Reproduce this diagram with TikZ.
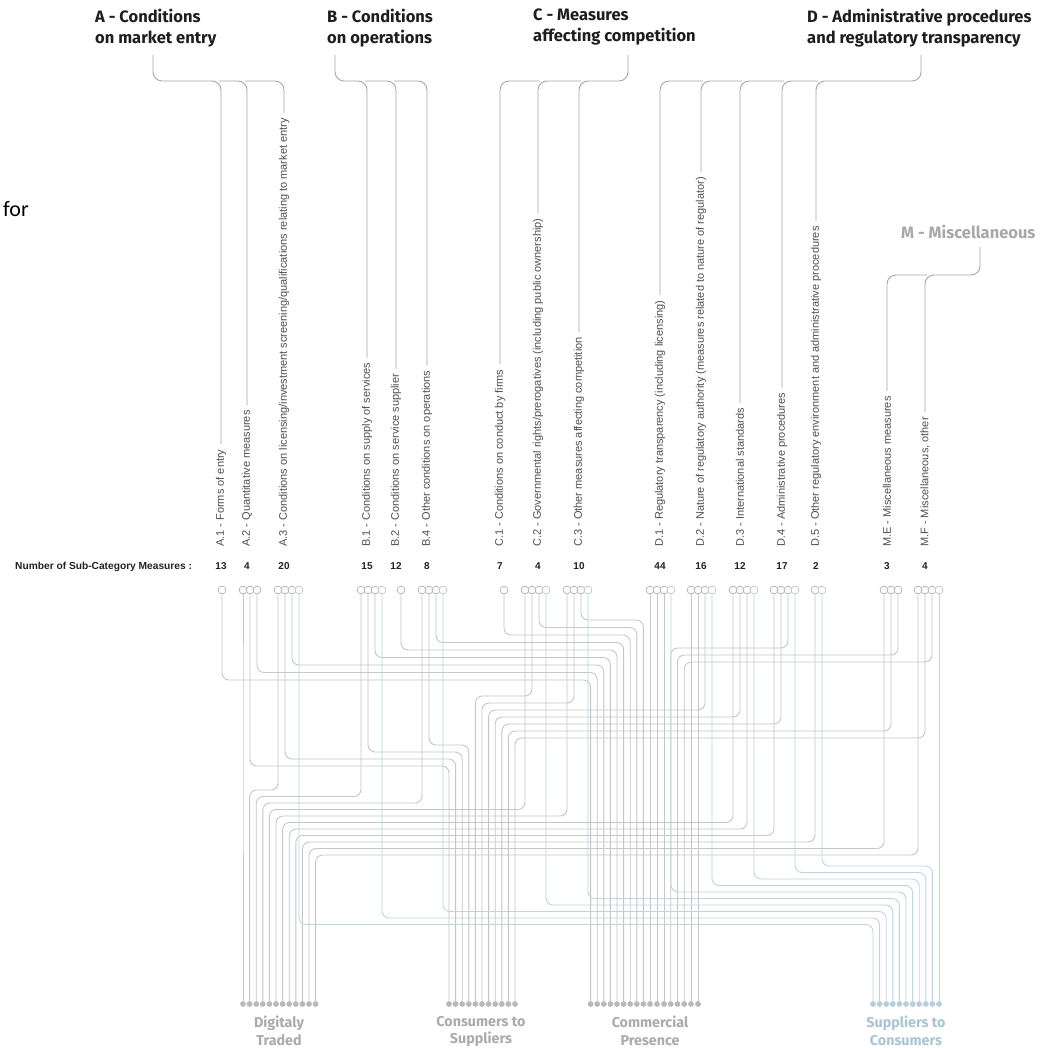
\documentclass[tikz,border=0pt]{standalone}
\usepackage{fontspec}
\setmainfont{Liberation Sans}
\newfontfamily\hfont{Fira Sans}
\newfontfamily\forfont{Carlito}
\usetikzlibrary{calc}
\definecolor{flowgray}{HTML}{C6C6C6}
\definecolor{flowblue}{HTML}{C0D4E0}
\definecolor{circgray}{HTML}{B0B0B0}
\definecolor{circblue}{HTML}{B0CADA}
\definecolor{dotgray}{HTML}{B9B9B9}
\definecolor{dotblue}{HTML}{B7CEDC}
\definecolor{labgray}{HTML}{505050}
\definecolor{numcol}{HTML}{222222}
\definecolor{hdrcol}{HTML}{1E1E1E}
\definecolor{brkgray}{HTML}{A6A6A6}
\definecolor{botgray}{HTML}{ABABAB}
\definecolor{botblue}{HTML}{A9C4D5}
\definecolor{mgray}{HTML}{A8A8A8}
\tikzset{
 gl/.style={draw=flowgray, line width=0.9pt, rounded corners=7pt},
 bl/.style={draw=flowblue, line width=0.9pt, rounded corners=7pt},
 src/.style={circle, draw=circgray, fill=white, line width=0.7pt, inner sep=0pt, minimum size=7.8pt},
 srcb/.style={src, draw=circblue},
 dotg/.style={circle, fill=dotgray, inner sep=0pt, minimum size=5.8pt},
 dotb/.style={dotg, fill=dotblue},
 lab/.style={font=\fontsize{11}{12}\selectfont, text=labgray, inner sep=0pt, rotate=90, anchor=west},
 num/.style={font=\bfseries\fontsize{10}{11}\selectfont, text=numcol, inner sep=0pt, anchor=base},
 hdr/.style={font=\hfont\bfseries\fontsize{16.5}{21}\selectfont, text=hdrcol, align=left, inner sep=0pt, anchor=north west},
 brk/.style={draw=brkgray, line width=0.9pt, rounded corners=9pt},
 bot/.style={font=\hfont\bfseries\fontsize{14.3}{17.5}\selectfont, text=botgray, align=center, inner sep=0pt, anchor=north},
}
\begin{document}
\begin{tikzpicture}[x=1pt,y=-1pt]
\fill[white] (0,0) rectangle (1059,1048);
\useasboundingbox (0,0) rectangle (1059,1048);

% headers
\node[hdr] (hA) at (95,9) {A - Conditions\\on market entry};
\node[hdr] (hB) at (327,9) {B - Conditions\\on operations};
\node[hdr] (hC) at (533,9) {C - Measures\\affecting competition};
\node[hdr] (hD) at (807,9) {D - Administrative procedures\\and regulatory transparency};
\node[hdr, text=mgray] (hM) at (901,225) {M - Miscellaneous};
\node[anchor=base west, inner sep=0pt, font=\forfont\fontsize{22}{24}\selectfont] (forw) at (3,217) {for};

% vertical labels
\foreach \n/\x/\t in {
 tA1/221/{A.1 - Forms of entry},
 tA2/247/{A.2 - Quantitative measures},
 tA3/284/{A.3 - Conditions on licensing/investment screening/qualifications relating to market entry},
 tB1/367/{B.1 - Conditions on supply of services},
 tB2/396/{B.2 - Conditions on service supplier},
 tB4/427/{B.4 - Other conditions on operations},
 tC1/500/{C.1 - Conditions on conduct by firms},
 tC2/538/{C.2 - Governmental rights/prerogatives (including public ownership)},
 tC3/579/{C.3 - Other measures affecting competition},
 tD1/660/{D.1 - Regulatory transparency (including licensing)},
 tD2/701/{D.2 - Nature of regulatory authority (measures related to nature of regulator)},
 tD3/740/{D.3 - International standards},
 tD4/782/{D.4 - Administrative procedures},
 tD5/816/{D.5 - Other regulatory environment and administrative procedures},
 tME/887/{M.E - Miscellaneous measures},
 tMF/925/{M.F - Miscellaneous, other}}
 \node[lab] (\n) at (\x,547) {\t};

% brackets
\coordinate (stA) at (153,55);
\coordinate (stB) at (335,55);
\coordinate (stC) at (628,55);
\coordinate (stD) at (921,55);
\coordinate (stM) at (980,247);
\draw[brk] (stA) -- (stA |- 0,81) -- (tA1.east |- 0,81) -- ($(tA1.east)+(0,-5)$);
\draw[brk] ($(tA1.east |- 0,81)+(-2,0)$) -- (tA2.east |- 0,81) -- ($(tA2.east)+(0,-5)$);
\draw[brk] ($(tA2.east |- 0,81)+(-2,0)$) -- (tA3.east |- 0,81) -- ($(tA3.east)+(0,-5)$);
\draw[brk] (stB) -- (stB |- 0,81) -- (tB1.east |- 0,81) -- ($(tB1.east)+(0,-5)$);
\draw[brk] ($(tB1.east |- 0,81)+(-2,0)$) -- (tB2.east |- 0,81) -- ($(tB2.east)+(0,-5)$);
\draw[brk] ($(tB2.east |- 0,81)+(-2,0)$) -- (tB4.east |- 0,81) -- ($(tB4.east)+(0,-5)$);
\draw[brk] (stC) -- (stC |- 0,81) -- (tC3.east |- 0,81) -- ($(tC3.east)+(0,-5)$);
\draw[brk] ($(tC3.east |- 0,81)+(2,0)$) -- (tC2.east |- 0,81) -- ($(tC2.east)+(0,-5)$);
\draw[brk] ($(tC2.east |- 0,81)+(2,0)$) -- (tC1.east |- 0,81) -- ($(tC1.east)+(0,-5)$);
\draw[brk] (stD) -- (stD |- 0,81) -- (tD5.east |- 0,81) -- ($(tD5.east)+(0,-5)$);
\draw[brk] ($(tD5.east |- 0,81)+(2,0)$) -- (tD4.east |- 0,81) -- ($(tD4.east)+(0,-5)$);
\draw[brk] ($(tD4.east |- 0,81)+(2,0)$) -- (tD3.east |- 0,81) -- ($(tD3.east)+(0,-5)$);
\draw[brk] ($(tD3.east |- 0,81)+(2,0)$) -- (tD2.east |- 0,81) -- ($(tD2.east)+(0,-5)$);
\draw[brk] ($(tD2.east |- 0,81)+(2,0)$) -- (tD1.east |- 0,81) -- ($(tD1.east)+(0,-5)$);
\draw[brk] (stM) -- (stM |- 0,275) -- (tMF.east |- 0,275) -- ($(tMF.east)+(0,-5)$);
\draw[brk] ($(tMF.east |- 0,275)+(2,0)$) -- (tME.east |- 0,275) -- ($(tME.east)+(0,-5)$);

% numbers
\node[anchor=base west, inner sep=0pt, font=\bfseries\fontsize{10.2}{11}\selectfont, text=numcol] (numlab) at (15,569) {Number of Sub-Category Measures :};
\foreach \n/\x/\v in {nA1/221/13, nA2/247/4, nA3/284/20, nB1/367/15, nB2/396/12, nB4/427/8, nC1/500/7, nC2/538/4, nC3/579/10, nD1/660/44, nD2/701/16, nD3/740/12, nD4/782/17, nD5/816/2, nME/887/3, nMF/925/4}
 \node[num] (\n) at (\x,569) {\v};

% destination dots
\foreach \n/\x in {dt0/243, dt1/249.6, dt2/256.2, dt3/262.8, dt4/269.4, dt5/276, dt6/282.6, dt7/289.2, dt8/295.8, dt9/302.4, dt10/309, dt11/315.6,
 cs0/449, cs1/455.6, cs2/462.2, cs3/468.8, cs4/475.4, cs5/482, cs6/488.6, cs7/495.2, cs8/501.8, cs9/508.4, cs10/515,
 cp0/590.6, cp1/597.2, cp2/603.8, cp3/610.4, cp4/617, cp5/623.6, cp6/630.2, cp7/636.8, cp8/643.4, cp9/650, cp10/657, cp11/664, cp12/670.75, cp13/677.5, cp14/684.25, cp15/691, cp16/698}
 \node[dotg] (\n) at (\x,1004) {};
\foreach \n/\x in {sc0/873, sc1/879.6, sc2/886.2, sc3/892.8, sc4/899.4, sc5/906, sc6/912.6, sc7/919.2, sc8/925.8, sc9/932.4, sc10/939}
 \node[dotb] (\n) at (\x,1004) {};

% source circles
\foreach \n/\x in {sA1/222, sA2a/243, sA2b/250, sA2c/257, sA3a/278, sA3b/285, sA3c/292,
 sB1a/361, sB1b/368, sB1c/375, sB2/401, sB4a/422, sB4b/429, sB4c/436, sC1/504,
 sC2a/525, sC2b/532, sC2c/539, sC3a/567, sC3b/574, sC3c/581,
 sD1a/650, sD1b/657, sD1c/664, sD2a/691, sD2b/698, sD2c/705,
 sD3a/733, sD3b/740, sD3c/747, sD4a/774, sD4b/781, sD4c/788, sD5a/815,
 sMEa/884, sMEb/891, sMEc/898, sMFa/918, sMFb/925, sMFc/932}
 \node[src] (\n) at (\x,590) {};
\foreach \n/\x in {sA3d/299, sB1d/382, sB4d/443, sC2d/546, sC3d/588, sD1d/671, sD2d/712, sD3d/754, sD4d/795, sD5b/822, sMFd/939}
 \node[srcb] (\n) at (\x,590) {};

% connectors
\foreach \sa/\da/\ya in {
 sA1/cp0/680, sA2a/dt0/700, sA2b/cs0/766, sA2c/cp1/672.5,
 sA3a/dt1/790, sA3b/cs1/759, sA3c/cp2/665,
 sB1a/dt2/796.5, sB1b/cs2/752, sB1c/cp3/657.5, sB2/cp4/650,
 sB4a/dt3/803, sB4b/cs3/745, sB4c/cp5/642.5, sC1/cp6/635,
 sC2a/dt4/809.5, sC2b/cs4/696, sC2c/cp7/627.5,
 sC3a/dt5/816, sC3b/cs5/703, sC3c/cp8/620,
 sD1a/cp9/700, sD1b/cp10/700, sD1c/cp11/700, sD2a/cp15/700, sD2b/cp16/700, sD2c/cs6/710,
 sD3a/dt6/822.5, sD3b/cs7/717, sD3c/dt7/829,
 sD4a/dt8/835.5, sD4b/cs8/724, sD4c/cp12/648, sD5a/dt9/842,
 sMEa/dt10/848.5, sMEb/cs9/731, sMEc/cp13/655,
 sMFa/dt11/855, sMFb/cs10/738, sMFc/cp14/662}
 \draw[gl] (\sa.south) -- (\sa.south |- 0,\ya) -- (\da.north |- 0,\ya) -- (\da.north);
\foreach \sa/\da/\ya in {
 sA3d/sc0/924.5, sB1d/sc1/918, sB4d/sc2/911.5, sC2d/sc3/905, sC3d/sc4/898.5,
 sD1d/sc5/892, sD2d/sc6/885.5, sD3d/sc7/879, sD4d/sc8/872.5, sD5b/sc9/866, sMFd/sc10/900}
 \draw[bl] (\sa.south) -- (\sa.south |- 0,\ya) -- (\da.north |- 0,\ya) -- (\da.north);

% bottom labels
\node[bot] (bDT) at (279,1016) {Digitaly\\Traded};
\node[bot] (bCS) at (481,1016) {Consumers to\\Suppliers};
\node[bot] (bCP) at (650,1016) {Commercial\\Presence};
\node[bot, text=botblue] (bSC) at (906,1016) {Suppliers to\\Consumers};
\end{tikzpicture}
\end{document}
